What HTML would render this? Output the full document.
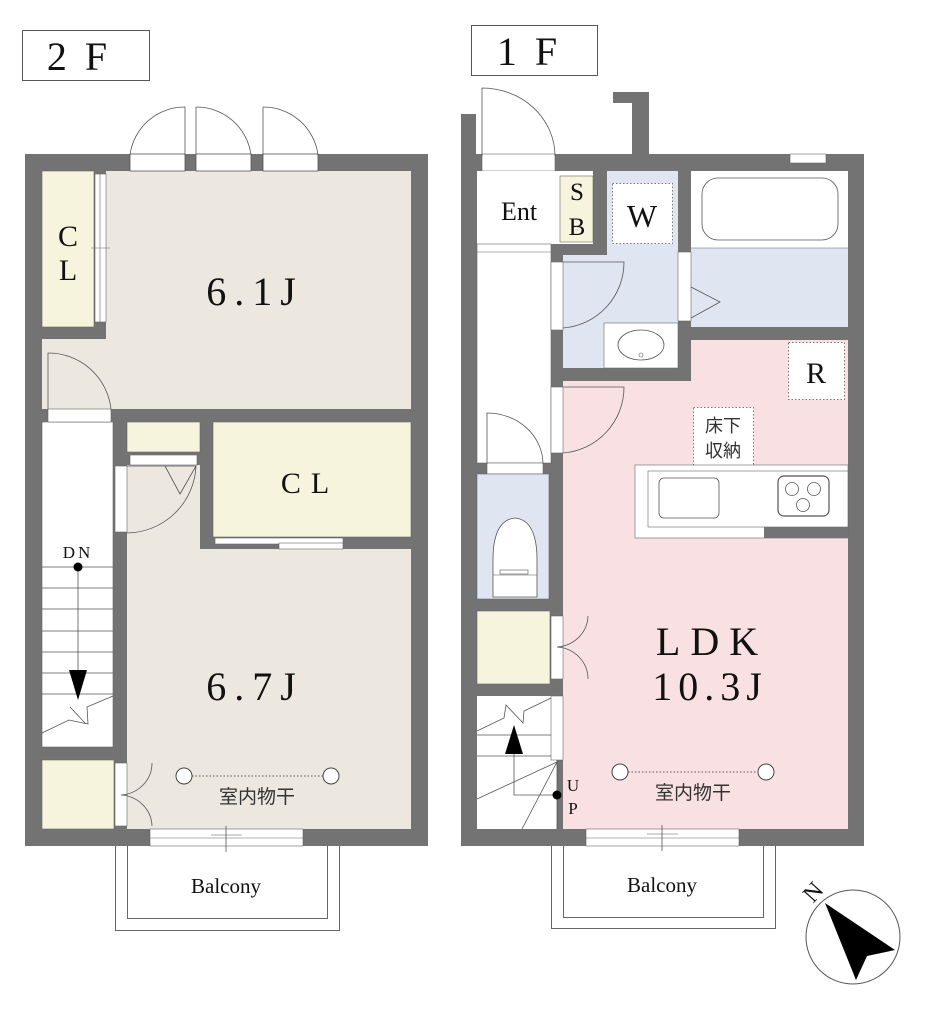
<!DOCTYPE html>
<html><head><meta charset="utf-8"><style>
html,body{margin:0;padding:0;background:#fff;}
svg{display:block;}
text{font-family:"Liberation Serif","Noto Serif CJK SC",serif;fill:#111;}
.jp{font-family:"Liberation Sans","Noto Sans CJK JP",sans-serif;fill:#333;}
</style></head><body>
<svg width="938" height="1024" viewBox="0 0 938 1024" xmlns="http://www.w3.org/2000/svg">
<rect x="22.5" y="30.5" width="127" height="50" fill="#fff" stroke="#555"/>
<text x="86" y="70" font-size="40" text-anchor="middle" letter-spacing="18">2F</text>
<rect x="471.5" y="25.5" width="126" height="50" fill="#fff" stroke="#555"/>
<text x="536" y="65" font-size="40" text-anchor="middle" letter-spacing="18">1F</text>

<!-- ============ 2F ============ -->
<rect x="25" y="154" width="403" height="692" fill="#737373"/>
<rect x="42" y="171" width="369" height="238" fill="#ece8df"/>
<rect x="42" y="171" width="64" height="168" fill="#737373"/>
<rect x="42" y="171" width="52" height="156" fill="#f6f4dc" stroke="#666" stroke-width="0.6"/>
<rect x="95" y="174" width="11" height="148" fill="#fff" stroke="#666" stroke-width="0.6"/>
<line x1="100" y1="174" x2="100" y2="322" stroke="#666" stroke-width="0.6"/>
<line x1="91" y1="248" x2="110" y2="248" stroke="#666" stroke-width="0.6"/>
<text x="68" y="246" font-size="30" text-anchor="middle">C</text>
<text x="68" y="280" font-size="30" text-anchor="middle">L</text>
<text x="255" y="305" font-size="40" text-anchor="middle" letter-spacing="8">6.1J</text>
<g fill="#fff" stroke="#555" stroke-width="0.8">
<rect x="130" y="154" width="55" height="17"/>
<rect x="196" y="154" width="55" height="17"/>
<rect x="263" y="154" width="55" height="17"/>
</g>
<g fill="none" stroke="#555" stroke-width="0.8">
<path d="M130 155 A55 55 0 0 1 185 107 L185 155"/>
<path d="M196 107 A55 55 0 0 1 251 155 M196 107 L196 155"/>
<path d="M263 107 A55 55 0 0 1 318 155 M263 107 L263 155"/>
</g>
<rect x="42" y="422" width="71" height="325" fill="#fff" stroke="#666" stroke-width="0.6"/>
<rect x="48" y="409" width="63" height="13" fill="#fff" stroke="#666" stroke-width="0.6"/>
<path d="M48 409 L48 353 A63 63 0 0 1 111 409" fill="none" stroke="#555" stroke-width="0.8"/>
<g stroke="#555" stroke-width="0.8">
<line x1="42" y1="567" x2="113" y2="567"/><line x1="42" y1="588" x2="113" y2="588"/>
<line x1="42" y1="609" x2="113" y2="609"/><line x1="42" y1="631" x2="113" y2="631"/>
<line x1="42" y1="652" x2="113" y2="652"/><line x1="42" y1="673" x2="113" y2="673"/>
<line x1="42" y1="694" x2="113" y2="694"/>
<line x1="78" y1="567" x2="78" y2="680"/>
</g>
<g stroke="#555" stroke-width="0.8" fill="none">
<polyline points="42,733 69,720 88,724 87,707 113,696"/>
<path d="M70 707 L86 724"/>
</g>
<polygon points="69,670 87,670 78,700" fill="#000"/>
<circle cx="78" cy="567" r="4.5" fill="#000"/>
<text x="78" y="558" font-size="17" text-anchor="middle" letter-spacing="3">DN</text>
<rect x="42" y="760" width="72" height="69" fill="#f6f4dc" stroke="#666" stroke-width="0.6"/>
<rect x="127" y="549" width="284" height="280" fill="#ece8df"/>
<rect x="127" y="465" width="73" height="90" fill="#ece8df"/>
<rect x="115" y="763" width="12" height="63" fill="#fff" stroke="#666" stroke-width="0.6"/>
<path d="M152 763 A33 32 0 0 1 121 795 A33 32 0 0 1 152 826" fill="none" stroke="#555" stroke-width="0.8"/>
<rect x="127" y="422" width="73" height="30" fill="#f6f4dc" stroke="#666" stroke-width="0.6"/>
<rect x="130" y="455" width="67" height="10" fill="#fff" stroke="#666" stroke-width="0.6"/>
<rect x="115" y="466" width="12" height="66" fill="#fff" stroke="#666" stroke-width="0.6"/>
<path d="M127 533 A70 70 0 0 0 196 466 L127 466 M165 466 L180 494 L196 466" fill="none" stroke="#555" stroke-width="0.8"/>
<rect x="213" y="422" width="198" height="115" fill="#f6f4dc" stroke="#666" stroke-width="0.6"/>
<text x="310" y="493" font-size="30" text-anchor="middle" letter-spacing="10">CL</text>
<rect x="215" y="538" width="128" height="6" fill="#fff" stroke="#666" stroke-width="0.6"/>
<rect x="279" y="543" width="64" height="6" fill="#fff" stroke="#666" stroke-width="0.6"/>
<text x="255" y="700" font-size="40" text-anchor="middle" letter-spacing="8">6.7J</text>
<line x1="192" y1="776" x2="323" y2="776" stroke="#555" stroke-dasharray="1.5,2"/>
<circle cx="184" cy="776" r="8" fill="#fff" stroke="#444"/>
<circle cx="331" cy="776" r="8" fill="#fff" stroke="#444"/>
<text x="257" y="803" font-size="19" text-anchor="middle" class="jp">室内物干</text>
<rect x="150" y="829" width="153" height="17" fill="#fff" stroke="#666" stroke-width="0.6"/>
<line x1="150" y1="838" x2="303" y2="838" stroke="#666" stroke-width="0.6"/>
<line x1="226" y1="826" x2="226" y2="852" stroke="#555" stroke-width="0.8"/>
<line x1="211" y1="835" x2="242" y2="835" stroke="#555" stroke-width="0.6"/>
<path d="M115.5 846 V930.5 H339.5 V846 M127.5 846 V918.5 H327.5 V846" fill="none" stroke="#666"/>
<text x="226" y="893" font-size="21" text-anchor="middle">Balcony</text>

<!-- ============ 1F ============ -->
<rect x="461" y="114" width="15" height="732" fill="#737373"/>
<rect x="461" y="154" width="403" height="692" fill="#737373"/>
<path d="M613 92 H649 V154 H632 V103 H613 Z" fill="#737373"/>
<rect x="482" y="154" width="73" height="17" fill="#fff" stroke="#666" stroke-width="0.6"/>
<path d="M482 156 L482 88 A73 68 0 0 1 555 156" fill="none" stroke="#555" stroke-width="0.8"/>
<rect x="477" y="171" width="116" height="73" fill="#fff"/>
<rect x="593" y="171" width="14" height="84" fill="#737373"/>
<rect x="560" y="176" width="33" height="66" fill="#f6f4dc" stroke="#666" stroke-width="0.6"/>
<text x="519" y="220" font-size="26" text-anchor="middle">Ent</text>
<text x="577" y="200" font-size="25" text-anchor="middle">S</text>
<text x="577" y="235" font-size="25" text-anchor="middle">B</text>
<rect x="477" y="244" width="74" height="219" fill="#fff" stroke="#666" stroke-width="0.6"/>
<line x1="477" y1="252" x2="551" y2="252" stroke="#666" stroke-width="0.6"/>
<rect x="607" y="171" width="71" height="84" fill="#dfe6f2"/>
<rect x="563" y="255" width="115" height="113" fill="#dfe6f2"/>
<rect x="612.5" y="183.5" width="60" height="60" fill="#fff" stroke="#777" stroke-dasharray="1.5,2"/>
<text x="642" y="227" font-size="32" text-anchor="middle">W</text>
<rect x="604" y="323" width="74" height="45" fill="#fff" stroke="#666" stroke-width="0.6"/>
<ellipse cx="641" cy="345" rx="23" ry="15" fill="#fff" stroke="#555" stroke-width="0.8"/>
<circle cx="641" cy="355" r="2" fill="none" stroke="#555" stroke-width="0.6"/>
<rect x="551" y="262" width="12" height="68" fill="#fff" stroke="#666" stroke-width="0.6"/>
<path d="M563 328 A66 66 0 0 0 624 262 L563 262" fill="none" stroke="#555" stroke-width="0.8"/>
<rect x="691" y="171" width="157" height="77" fill="#fff"/>
<rect x="691" y="248" width="157" height="79" fill="#dfe6f2"/>
<line x1="691" y1="248" x2="848" y2="248" stroke="#666" stroke-width="0.6"/>
<rect x="702" y="178" width="136" height="62" rx="16" fill="#fff" stroke="#555" stroke-width="0.8"/>
<rect x="678" y="252" width="13" height="69" fill="#fff" stroke="#666" stroke-width="0.6"/>
<polyline points="691,287 720,302 691,318" fill="none" stroke="#555" stroke-width="0.8"/>
<rect x="790" y="154" width="36" height="9" fill="#fff" stroke="#666" stroke-width="0.6"/>
<rect x="563" y="381" width="285" height="448" fill="#f9e1e3"/>
<rect x="691" y="340" width="157" height="45" fill="#f9e1e3"/>
<rect x="788.5" y="342.5" width="56" height="57" fill="#fff" stroke="#777" stroke-dasharray="1.5,2"/>
<text x="816" y="383" font-size="30" text-anchor="middle">R</text>
<rect x="693.5" y="407.5" width="60" height="60" fill="#fff" stroke="#777" stroke-dasharray="1.5,2"/>
<text x="723" y="432" font-size="18" text-anchor="middle" class="jp">床下</text>
<text x="723" y="457" font-size="18" text-anchor="middle" class="jp">収納</text>
<rect x="551" y="387" width="12" height="66" fill="#fff" stroke="#666" stroke-width="0.6"/>
<path d="M563 453 A66 66 0 0 0 624 387 L563 387" fill="none" stroke="#555" stroke-width="0.8"/>
<rect x="635" y="465" width="213" height="73" fill="#fff" stroke="#666" stroke-width="0.6"/>
<rect x="648" y="471" width="200" height="56" fill="#fff" stroke="#666" stroke-width="0.6"/>
<rect x="764" y="527" width="84" height="11" fill="#737373"/>
<rect x="659" y="478" width="60" height="40" rx="5" fill="#fff" stroke="#555" stroke-width="0.8"/>
<rect x="778" y="476" width="51" height="40" rx="6" fill="#fff" stroke="#555" stroke-width="1.2"/>
<circle cx="792" cy="489" r="6.5" fill="#fff" stroke="#555" stroke-width="0.8"/>
<circle cx="814" cy="489" r="6.5" fill="#fff" stroke="#555" stroke-width="0.8"/>
<circle cx="803" cy="505" r="6.5" fill="#fff" stroke="#555" stroke-width="0.8"/>
<text x="712" y="655" font-size="40" text-anchor="middle" letter-spacing="10">LDK</text>
<text x="710" y="700" font-size="40" text-anchor="middle" letter-spacing="6">10.3J</text>
<line x1="628" y1="772" x2="758" y2="772" stroke="#555" stroke-dasharray="1.5,2"/>
<circle cx="620" cy="772" r="8" fill="#fff" stroke="#444"/>
<circle cx="766" cy="772" r="8" fill="#fff" stroke="#444"/>
<text x="693" y="799" font-size="19" text-anchor="middle" class="jp">室内物干</text>
<rect x="487" y="463" width="56" height="11" fill="#fff" stroke="#666" stroke-width="0.6"/>
<path d="M487 464 L487 413 A56 51 0 0 1 543 464" fill="none" stroke="#555" stroke-width="0.8"/>
<rect x="477" y="474" width="72" height="125" fill="#dfe6f2" stroke="#666" stroke-width="0.6"/>
<path d="M493 597 V560 Q493 520 515 518 Q537 520 537 560 V597 Z" fill="#fff" stroke="#555" stroke-width="0.8"/>
<rect x="500" y="570" width="28" height="4" fill="#fff" stroke="#555" stroke-width="0.6"/>
<line x1="493" y1="575" x2="537" y2="575" stroke="#555" stroke-width="0.6"/>
<rect x="477" y="611" width="73" height="73" fill="#f6f4dc" stroke="#666" stroke-width="0.6"/>
<rect x="551" y="616" width="12" height="63" fill="#fff" stroke="#666" stroke-width="0.6"/>
<path d="M588 616 A33 32 0 0 1 557 647 A33 32 0 0 1 588 679" fill="none" stroke="#555" stroke-width="0.8"/>
<rect x="477" y="696" width="80" height="133" fill="#fff"/>
<rect x="551" y="696" width="12" height="64" fill="#fff" stroke="#666" stroke-width="0.6"/>
<g stroke="#555" stroke-width="0.8" fill="none">
<polyline points="477,731 504,718 506,705 523,723 524,711 551,698"/>
<line x1="477" y1="735" x2="551" y2="735"/>
<line x1="477" y1="756" x2="551" y2="756"/>
<line x1="477" y1="799" x2="557" y2="762"/>
<line x1="522" y1="829" x2="557" y2="762"/>
<line x1="557" y1="760" x2="557" y2="829"/>
<polyline points="514,750 514,795 557,795"/>
</g>
<polygon points="505,754 523,754 514,725" fill="#000"/>
<circle cx="557" cy="795" r="4.5" fill="#000"/>
<text x="573" y="791" font-size="17" text-anchor="middle">U</text>
<text x="573" y="814" font-size="17" text-anchor="middle">P</text>
<rect x="586" y="829" width="153" height="17" fill="#fff" stroke="#666" stroke-width="0.6"/>
<line x1="586" y1="838" x2="739" y2="838" stroke="#666" stroke-width="0.6"/>
<line x1="662" y1="825" x2="662" y2="851" stroke="#555" stroke-width="0.8"/>
<line x1="647" y1="834" x2="678" y2="834" stroke="#555" stroke-width="0.6"/>
<path d="M551.5 846 V928.5 H775.5 V846 M563.5 846 V917.5 H763.5 V846" fill="none" stroke="#666"/>
<text x="662" y="892" font-size="21" text-anchor="middle">Balcony</text>

<circle cx="853" cy="937" r="47" fill="#fff" stroke="#555" stroke-width="1"/>
<polygon points="825,903 895,950 867,956 856,980" fill="#000"/>
<text x="813" y="900" font-size="24" text-anchor="middle" transform="rotate(-48 813 892)">N</text>
</svg>
</body></html>
